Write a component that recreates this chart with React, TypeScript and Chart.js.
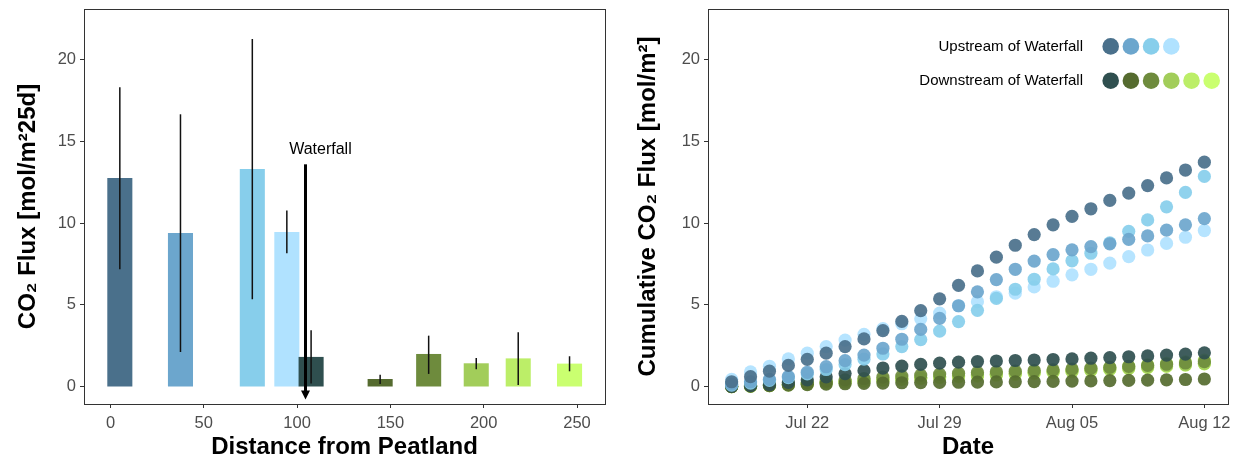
import React, { useEffect, useRef } from 'react';
import { Chart, registerables } from 'chart.js';

Chart.register(...registerables);

const FONT = '"Liberation Sans", Arial, Helvetica, sans-serif';

// ---------- Left panel: CO2 flux by distance ----------
const distances = [5, 37.5, 76, 94.5, 107.5, 144.5, 170.5, 196, 218.5, 246];
const fluxMean = [12.74, 9.38, 13.3, 9.44, 1.8, 0.45, 1.98, 1.41, 1.71, 1.39];
const fluxLow = [7.18, 2.12, 5.34, 8.16, 0.2, 0.17, 0.78, 1.06, 0.1, 0.94];
const fluxHigh = [18.31, 16.66, 21.27, 10.77, 3.45, 0.73, 3.12, 1.76, 3.33, 1.86];
const siteColors = ['#4A708B', '#6CA6CD', '#87CEEB', '#B0E2FF', '#2F4F4F', '#556B2F', '#6E8B3D', '#A2CD5A', '#BCEE68', '#CAFF70'];
const distanceTicks = [0, 50, 100, 150, 200, 250];
const fluxTicks = [0, 5, 10, 15, 20];
const waterfallX = 104.5;
const waterfallTop = 13.6;
const waterfallBottom = -0.78;
const waterfallLabel = 'Waterfall';
const waterfallLabelX = 112.5;
const waterfallLabelY = 14.5;

// ---------- Right panel: cumulative flux by date ----------
const dates = [
  'Jul 18', 'Jul 19', 'Jul 20', 'Jul 21', 'Jul 22', 'Jul 23', 'Jul 24', 'Jul 25', 'Jul 26', 'Jul 27',
  'Jul 28', 'Jul 29', 'Jul 30', 'Jul 31', 'Aug 01', 'Aug 02', 'Aug 03', 'Aug 04', 'Aug 05', 'Aug 06',
  'Aug 07', 'Aug 08', 'Aug 09', 'Aug 10', 'Aug 11', 'Aug 12',
];
const dateTicks = ['Jul 22', 'Jul 29', 'Aug 05', 'Aug 12'];

const up1 = [0.3, 0.61, 0.95, 1.3, 1.67, 2.05, 2.45, 2.92, 3.43, 3.99, 4.65, 5.37, 6.2, 7.08, 7.92, 8.65, 9.3, 9.9, 10.42, 10.88, 11.39, 11.84, 12.3, 12.77, 13.25, 13.73];
const up2 = [0.15, 0.3, 0.45, 0.62, 0.88, 1.22, 1.59, 1.93, 2.35, 2.9, 3.5, 4.18, 4.95, 5.8, 6.55, 7.18, 7.68, 8.08, 8.37, 8.57, 8.74, 9.01, 9.22, 9.57, 9.9, 10.28];
const up3 = [0.1, 0.22, 0.38, 0.55, 0.78, 1.05, 1.35, 1.68, 2.0, 2.45, 2.88, 3.4, 3.98, 4.67, 5.4, 5.96, 6.57, 7.2, 7.7, 8.16, 8.8, 9.5, 10.2, 11.0, 11.88, 12.86];
const up4 = [0.45, 0.9, 1.25, 1.7, 2.05, 2.45, 2.85, 3.2, 3.55, 3.85, 4.15, 4.5, 4.95, 5.2, 5.5, 5.72, 6.1, 6.45, 6.84, 7.18, 7.56, 7.95, 8.36, 8.76, 9.14, 9.55];
const down1 = [0.02, 0.06, 0.13, 0.26, 0.42, 0.6, 0.8, 0.98, 1.14, 1.26, 1.36, 1.44, 1.5, 1.54, 1.57, 1.6, 1.63, 1.66, 1.7, 1.74, 1.78, 1.83, 1.88, 1.93, 1.99, 2.07];
const down2 = [0.0, 0.03, 0.06, 0.1, 0.13, 0.16, 0.18, 0.2, 0.22, 0.24, 0.25, 0.26, 0.27, 0.28, 0.29, 0.3, 0.31, 0.32, 0.34, 0.35, 0.37, 0.38, 0.4, 0.42, 0.44, 0.47];
const down3 = [0.01, 0.05, 0.1, 0.17, 0.25, 0.33, 0.42, 0.5, 0.58, 0.65, 0.71, 0.77, 0.82, 0.87, 0.91, 0.95, 0.99, 1.03, 1.08, 1.13, 1.18, 1.24, 1.3, 1.37, 1.45, 1.53];
const down4 = [0.0, 0.03, 0.07, 0.12, 0.18, 0.24, 0.3, 0.36, 0.42, 0.48, 0.54, 0.6, 0.66, 0.71, 0.76, 0.81, 0.86, 0.91, 0.96, 1.02, 1.08, 1.14, 1.2, 1.27, 1.34, 1.41];
const down5 = [0.0, 0.04, 0.08, 0.13, 0.19, 0.25, 0.31, 0.37, 0.43, 0.49, 0.55, 0.61, 0.67, 0.72, 0.78, 0.84, 0.9, 0.96, 1.03, 1.1, 1.17, 1.25, 1.33, 1.42, 1.52, 1.62];
const down6 = [0.0, 0.03, 0.07, 0.11, 0.16, 0.21, 0.27, 0.33, 0.38, 0.44, 0.5, 0.55, 0.6, 0.65, 0.7, 0.75, 0.8, 0.86, 0.92, 0.98, 1.04, 1.1, 1.17, 1.24, 1.32, 1.4];

const upstreamSeries = [up1, up2, up3, up4];
const downstreamSeries = [down1, down2, down3, down4, down5, down6];
const upstreamColors = ['#4A708B', '#6CA6CD', '#87CEEB', '#B0E2FF'];
const downstreamColors = ['#2F4F4F', '#556B2F', '#6E8B3D', '#A2CD5A', '#BCEE68', '#CAFF70'];
const legendUp = 'Upstream of Waterfall';
const legendDown = 'Downstream of Waterfall';

const Y_MIN = -1.06;
const Y_MAX = 23.1;

function rgba(hex: string, a: number) {
  const n = parseInt(hex.slice(1), 16);
  return `rgba(${(n >> 16) & 255},${(n >> 8) & 255},${n & 255},${a})`;
}

const borderPlugin = {
  id: 'panelBorder',
  afterDraw(chart: any) {
    const { ctx, chartArea } = chart;
    ctx.save();
    ctx.strokeStyle = '#333333';
    ctx.lineWidth = 1;
    ctx.strokeRect(Math.round(chartArea.left) + 0.5, Math.round(chartArea.top) + 0.5,
      Math.round(chartArea.right - chartArea.left), Math.round(chartArea.bottom - chartArea.top));
    ctx.restore();
  },
};

const leftOverlay = {
  id: 'leftOverlay',
  afterDatasetsDraw(chart: any) {
    const { ctx } = chart;
    const x = chart.scales.x;
    const y = chart.scales.y;
    ctx.save();
    ctx.strokeStyle = '#111111';
    ctx.lineWidth = 1.5;
    distances.forEach((d, i) => {
      const px = x.getPixelForValue(d);
      ctx.beginPath();
      ctx.moveTo(px, y.getPixelForValue(fluxLow[i]));
      ctx.lineTo(px, y.getPixelForValue(fluxHigh[i]));
      ctx.stroke();
    });
    // waterfall arrow
    const ax = x.getPixelForValue(waterfallX);
    const ay0 = y.getPixelForValue(waterfallTop);
    const ay1 = y.getPixelForValue(waterfallBottom);
    ctx.strokeStyle = '#000000';
    ctx.fillStyle = '#000000';
    ctx.lineWidth = 3;
    ctx.beginPath();
    ctx.moveTo(ax, ay0);
    ctx.lineTo(ax, ay1 - 7);
    ctx.stroke();
    ctx.beginPath();
    ctx.moveTo(ax - 4.5, ay1 - 9);
    ctx.lineTo(ax + 4.5, ay1 - 9);
    ctx.lineTo(ax, ay1);
    ctx.closePath();
    ctx.fill();
    ctx.font = `16px ${FONT}`;
    ctx.textAlign = 'center';
    ctx.textBaseline = 'middle';
    ctx.fillText(waterfallLabel, x.getPixelForValue(waterfallLabelX), y.getPixelForValue(waterfallLabelY));
    ctx.restore();
  },
};

const rightLegend = {
  id: 'rightLegend',
  afterDraw(chart: any) {
    const { ctx, chartArea } = chart;
    const textRight = chartArea.right - 145;
    const dot0 = chartArea.right - 117.3;
    const rows = [
      { label: legendUp, colors: upstreamColors, y: chartArea.top + 37.4 },
      { label: legendDown, colors: downstreamColors, y: chartArea.top + 71.7 },
    ];
    ctx.save();
    ctx.font = `15px ${FONT}`;
    ctx.textAlign = 'right';
    ctx.textBaseline = 'middle';
    rows.forEach((r) => {
      ctx.fillStyle = '#000000';
      ctx.fillText(r.label, textRight, r.y);
      r.colors.forEach((c, k) => {
        ctx.fillStyle = c;
        ctx.beginPath();
        ctx.arc(dot0 + 20.2 * k, r.y, 8.3, 0, Math.PI * 2);
        ctx.fill();
      });
    });
    ctx.restore();
  },
};

function commonY(titleText: string, width: number, titlePad: number) {
  return {
    type: 'linear' as const,
    min: Y_MIN,
    max: Y_MAX,
    afterBuildTicks: (scale: any) => {
      scale.ticks = fluxTicks.map((v) => ({ value: v }));
    },
    afterFit: (scale: any) => {
      scale.width = width;
      scale.paddingTop = 0;
      scale.paddingBottom = 0;
    },
    grid: { display: true, drawOnChartArea: false, drawTicks: true, tickLength: 4, color: '#333333', lineWidth: 1 },
    border: { display: false },
    ticks: { color: '#4D4D4D', font: { family: FONT, size: 16.5 }, padding: 4 },
    title: {
      display: true,
      text: titleText,
      color: '#000000',
      font: { family: FONT, size: 24, weight: 'bold' as const },
      padding: { top: titlePad, bottom: 0 },
    },
  };
}

function xBase(titleText: string) {
  return {
    type: 'linear' as const,
    offset: false,
    afterFit: (scale: any) => {
      scale.height = 58;
      scale.paddingLeft = 0;
      scale.paddingRight = 0;
    },
    grid: { display: true, offset: false, drawOnChartArea: false, drawTicks: true, tickLength: 4, color: '#333333', lineWidth: 1 },
    border: { display: false },
    title: {
      display: true,
      text: titleText,
      color: '#000000',
      font: { family: FONT, size: 24, weight: 'bold' as const },
      padding: { top: 0, bottom: 0 },
    },
  };
}

function LeftChart() {
  const ref = useRef<HTMLCanvasElement>(null);
  useEffect(() => {
    if (!ref.current) return;
    const chart = new Chart(ref.current, {
      type: 'bar',
      data: {
        datasets: [
          {
            label: 'CO₂ Flux',
            data: distances.map((d, i) => ({ x: d, y: fluxMean[i] })),
            backgroundColor: siteColors,
            borderWidth: 0,
            barThickness: 24.4,
          } as any,
        ],
      },
      options: {
        responsive: false,
        animation: false,
        layout: { padding: { left: 0, right: 15, top: 9, bottom: 0 } },
        plugins: { legend: { display: false }, tooltip: { enabled: false } },
        scales: {
          x: {
            ...xBase('Distance from Peatland'),
            min: -14.2,
            max: 265,
            afterBuildTicks: (scale: any) => {
              scale.ticks = distanceTicks.map((v) => ({ value: v }));
            },
            ticks: { color: '#4D4D4D', font: { family: FONT, size: 16.5 }, padding: 6, maxRotation: 0, autoSkip: false },
          },
          y: commonY('CO₂ Flux [mol/m²25d]', 84, 14),
        },
      } as any,
      plugins: [leftOverlay, borderPlugin],
    });
    return () => chart.destroy();
  }, []);
  return <canvas ref={ref} width={620} height={462} style={{ width: 620, height: 462, display: 'block' }} />;
}

function RightChart() {
  const ref = useRef<HTMLCanvasElement>(null);
  useEffect(() => {
    if (!ref.current) return;
    const mk = (series: number[], color: string, label: string) => ({
      label,
      data: series.map((v, i) => ({ x: i, y: v })),
      backgroundColor: rgba(color, 0.92),
      borderWidth: 0,
      pointRadius: 6.6,
      pointHoverRadius: 6.6,
    });
    const datasets = [
      ...upstreamSeries.map((s, k) => mk(s, upstreamColors[k], `${legendUp} ${k + 1}`)),
      ...downstreamSeries.map((s, k) => mk(s, downstreamColors[k], `${legendDown} ${k + 1}`)),
    ];
    const chart = new Chart(ref.current, {
      type: 'scatter',
      data: { datasets },
      options: {
        responsive: false,
        animation: false,
        layout: { padding: { left: 0, right: 14, top: 9, bottom: 0 } },
        plugins: { legend: { display: false }, tooltip: { enabled: false } },
        scales: {
          x: {
            ...xBase('Date'),
            min: -1.25,
            max: 26.25,
            afterBuildTicks: (scale: any) => {
              scale.ticks = dateTicks.map((t) => ({ value: dates.indexOf(t) }));
            },
            ticks: {
              color: '#4D4D4D',
              font: { family: FONT, size: 16.5 },
              padding: 6,
              maxRotation: 0,
              autoSkip: false,
              callback: (v: any) => dates[Math.round(Number(v))] ?? '',
            },
          },
          y: commonY('Cumulative CO₂ Flux [mol/m²]', 88, 14),
        },
      } as any,
      plugins: [borderPlugin, rightLegend],
    });
    return () => chart.destroy();
  }, []);
  return <canvas ref={ref} width={622} height={462} style={{ width: 622, height: 462, display: 'block' }} />;
}

export default function App() {
  return (
    <div style={{ position: 'absolute', left: 0, top: 0, width: 1242, height: 462, background: '#ffffff' }}>
      <div style={{ position: 'absolute', left: 0, top: 0, width: 620, height: 462 }}>
        <LeftChart />
      </div>
      <div style={{ position: 'absolute', left: 620, top: 0, width: 622, height: 462 }}>
        <RightChart />
      </div>
    </div>
  );
}
